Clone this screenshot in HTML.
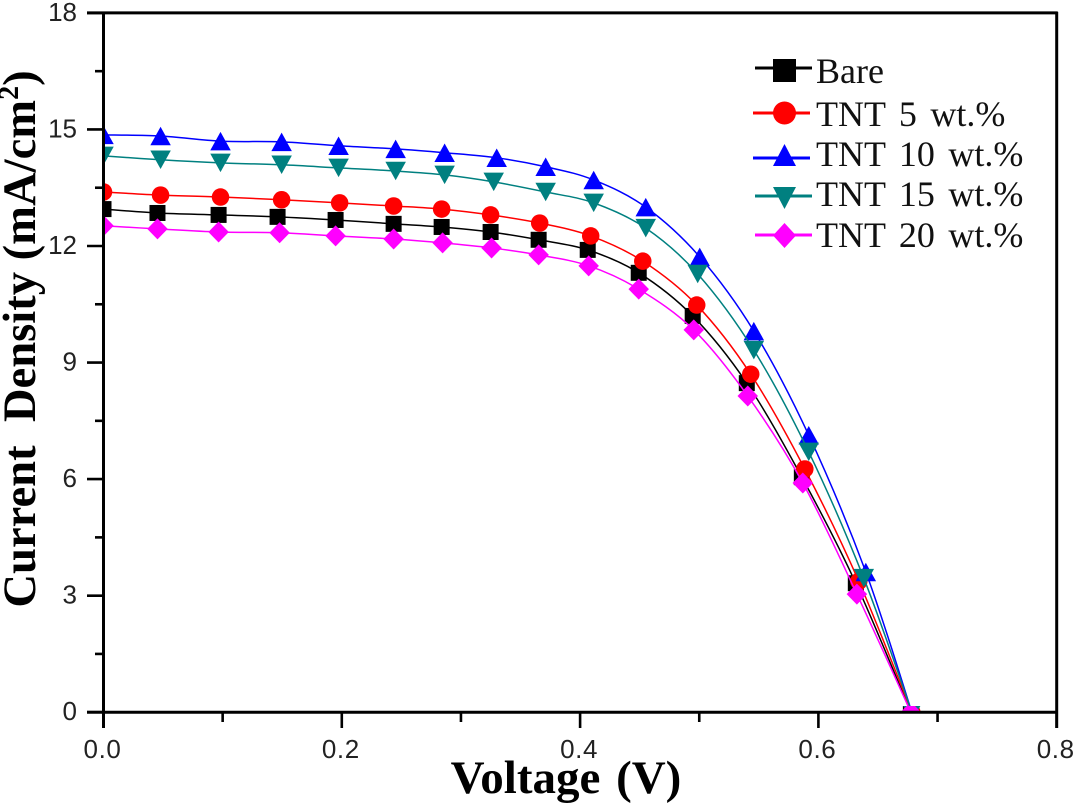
<!DOCTYPE html>
<html lang="en">
<head>
<meta charset="utf-8">
<title>Current density vs voltage</title>
<style>
html,body{margin:0;padding:0;background:#fff;}
body{width:1074px;height:806px;overflow:hidden;}
svg{display:block;}
.tick-text{font-family:"Liberation Sans",Arial,sans-serif;font-size:26px;fill:#222;}
.title-text{font-family:"Liberation Serif","Times New Roman",serif;font-weight:bold;fill:#000;}
.legend-text{font-family:"Liberation Serif","Times New Roman",serif;font-size:36px;word-spacing:4.5px;fill:#111;}
</style>
</head>
<body>
<svg id="chart" xmlns="http://www.w3.org/2000/svg" width="1074" height="806" viewBox="0 0 1074 806">
  <defs>
    <clipPath id="plot-clip"><rect x="103.5" y="12.7" width="953" height="700"></rect></clipPath>
    <clipPath id="end-clip"><rect x="103.5" y="706" width="953" height="7"></rect></clipPath>
  </defs>
  <g id="series-layer" clip-path="url(#plot-clip)"></g>
  <g id="axis-layer"></g>
  <text class="title-text" x="566" y="793" text-anchor="middle" font-size="47" word-spacing="4">Voltage (V)</text>
  <text class="title-text" transform="translate(35,339) rotate(-90)" text-anchor="middle" font-size="46.6" xml:space="preserve">Current  Density (mA/cm<tspan font-size="28" dy="-17">2</tspan><tspan dy="17">)</tspan></text>
  <g id="legend-layer"></g>
</svg>
<script>
const seriesNames = ['Bare', 'TNT 5 wt.%', 'TNT 10 wt.%', 'TNT 15 wt.%', 'TNT 20 wt.%'];

const voltageBare = [0, .0453, .0966, .1461, .1948, .2435, .2838, .3249, .3652, .4064, .4492, .4945, .5399, .5861, .6314, .6776];
const currentBare = [12.95, 12.85, 12.80, 12.75, 12.67, 12.57, 12.49, 12.36, 12.16, 11.90, 11.31, 10.20, 8.47, 6.05, 3.32, 0];

const voltage5 = [0, .0479, .0982, .1495, .1982, .2435, .2838, .3249, .3661, .4089, .4526, .4979, .5432, .5886, .6339, .6784];
const current5 = [13.39, 13.31, 13.26, 13.19, 13.11, 13.03, 12.95, 12.80, 12.59, 12.26, 11.61, 10.48, 8.70, 6.26, 3.37, 0];

const voltage10 = [0, .0479, .0982, .1495, .1973, .2452, .2863, .33, .3711, .4114, .4551, .5004, .5458, .5919, .6398, .6784];
const current10 = [14.86, 14.83, 14.70, 14.68, 14.58, 14.50, 14.40, 14.27, 14.04, 13.70, 13.00, 11.72, 9.81, 7.13, 3.61, 0];

const voltage15 = [0, .0479, .0982, .1495, .1973, .2452, .2863, .3275, .3711, .4114, .4551, .4987, .5458, .5919, .6381, .6784];
const current15 = [14.32, 14.22, 14.14, 14.09, 14.01, 13.93, 13.83, 13.65, 13.39, 13.11, 12.46, 11.28, 9.32, 6.70, 3.45, 0];

const voltage20 = [0, .0453, .0966, .1478, .1948, .2435, .2846, .3257, .3652, .4072, .4492, .4954, .5407, .5869, .6323, .6776];
const current20 = [12.52, 12.44, 12.36, 12.34, 12.26, 12.18, 12.08, 11.95, 11.77, 11.49, 10.89, 9.84, 8.14, 5.90, 3.04, 0];

const xMajorTicks = [0, 0.2, 0.4, 0.6, 0.8];
const xTickLabels = ['0.0', '0.2', '0.4', '0.6', '0.8'];
const xMinorTicks = [0.1, 0.3, 0.5, 0.7];
const yMajorTicks = [0, 3, 6, 9, 12, 15, 18];
const yTickLabels = ['0', '3', '6', '9', '12', '15', '18'];
const yMinorTicks = [1.5, 4.5, 7.5, 10.5, 13.5, 16.5];

const allVoltages = [voltageBare, voltage5, voltage10, voltage15, voltage20];
const allCurrents = [currentBare, current5, current10, current15, current20];
const colors = ['#000000', '#ff0000', '#0000ff', '#008080', '#ff00ff'];
const shapes = ['square', 'circle', 'up', 'down', 'diamond'];

const NS = 'http://www.w3.org/2000/svg';
const xScale = v => 103.5 + v * 1191.5;
const yScale = c => 712.2 - c * 38.85;

function make(tag, attrs, parent) {
  const el = document.createElementNS(NS, tag);
  for (const k in attrs) el.setAttribute(k, attrs[k]);
  parent.appendChild(el);
  return el;
}

function splinePath(pts) {
  let d = 'M' + pts[0][0] + ' ' + pts[0][1];
  for (let i = 0; i < pts.length - 1; i++) {
    const p0 = pts[Math.max(i - 1, 0)], p1 = pts[i], p2 = pts[i + 1], p3 = pts[Math.min(i + 2, pts.length - 1)];
    const c1x = p1[0] + (p2[0] - p0[0]) / 6, c1y = p1[1] + (p2[1] - p0[1]) / 6;
    const c2x = p2[0] - (p3[0] - p1[0]) / 6, c2y = p2[1] - (p3[1] - p1[1]) / 6;
    d += ' C' + c1x + ' ' + c1y + ' ' + c2x + ' ' + c2y + ' ' + p2[0] + ' ' + p2[1];
  }
  return d;
}

function drawMarker(shape, cx, cy, w, h, color, parent) {
  if (shape === 'square') {
    return make('rect', {x: cx - w / 2, y: cy - h / 2, width: w, height: h, fill: color}, parent);
  }
  if (shape === 'circle') {
    return make('circle', {cx: cx, cy: cy, r: w / 2, fill: color}, parent);
  }
  let pts;
  if (shape === 'up') pts = [[cx, cy - h / 2], [cx + w / 2, cy + h / 2], [cx - w / 2, cy + h / 2]];
  if (shape === 'down') pts = [[cx, cy + h / 2], [cx + w / 2, cy - h / 2], [cx - w / 2, cy - h / 2]];
  if (shape === 'diamond') pts = [[cx, cy - h / 2], [cx + w / 2, cy], [cx, cy + h / 2], [cx - w / 2, cy]];
  return make('polygon', {points: pts.map(p => p.join(',')).join(' '), fill: color}, parent);
}

const markerW = {square: 16, circle: 17.5, up: 20.5, down: 20.5, diamond: 20.5};
const markerH = {square: 16, circle: 17.5, up: 18.5, down: 18.5, diamond: 21};

const seriesLayer = document.getElementById('series-layer');
seriesNames.forEach((name, s) => {
  const group = make('g', {}, seriesLayer);
  
  
  const pts = allVoltages[s].map((v, i) => [xScale(v), yScale(allCurrents[s][i])]);
  const line = make('path', {d: splinePath(pts), fill: 'none', stroke: colors[s], 'stroke-width': 1.5}, group);
  
  
  pts.forEach((p, i) => {
    const m = drawMarker(shapes[s], p[0], p[1], markerW[shapes[s]], markerH[shapes[s]], colors[s], group);
    
    
    if (i === pts.length - 1) m.setAttribute('clip-path', 'url(#end-clip)');
  });
});

const axisLayer = document.getElementById('axis-layer');
const axisStyle = {stroke: '#000', 'stroke-width': 3, fill: 'none'};
const thinTick = {stroke: '#000', 'stroke-width': 2.6, fill: 'none'};

const leftSpine = make('line', Object.assign({x1: xScale(0), x2: xScale(0), y1: yScale(18) - 1, y2: 728}, axisStyle), axisLayer);


const rightSpine = make('line', Object.assign({x1: xScale(0.8), x2: xScale(0.8), y1: yScale(18) - 1, y2: 728}, axisStyle), axisLayer);


const topSpine = make('line', Object.assign({x1: 87, x2: xScale(0.8) + 1, y1: yScale(18), y2: yScale(18)}, axisStyle), axisLayer);


const bottomSpine = make('line', Object.assign({x1: 87, x2: xScale(0.8) + 1, y1: yScale(0), y2: yScale(0)}, axisStyle), axisLayer);



yMajorTicks.forEach((t, i) => {
  const y = yScale(t);
  const tick = make('line', Object.assign({x1: 87, x2: xScale(0), y1: y, y2: y}, thinTick), axisLayer);
  
  
  const label = make('text', {class: 'tick-text', x: 77, y: y + 8, 'text-anchor': 'end'}, axisLayer);
  
  
  label.textContent = yTickLabels[i];
});
yMinorTicks.forEach(t => {
  const y = yScale(t);
  const tick = make('line', Object.assign({x1: 95, x2: xScale(0), y1: y, y2: y}, thinTick), axisLayer);
  
  
});
xMajorTicks.forEach((t, i) => {
  const x = xScale(t);
  const tick = make('line', Object.assign({x1: x, x2: x, y1: yScale(0), y2: 728}, thinTick), axisLayer);
  
  
  const label = make('text', {class: 'tick-text', x: x - 1, y: 758, 'text-anchor': 'middle', 'letter-spacing': '0.6'}, axisLayer);
  
  
  label.textContent = xTickLabels[i];
});
xMinorTicks.forEach(t => {
  const x = xScale(t);
  const tick = make('line', Object.assign({x1: x, x2: x, y1: yScale(0), y2: 722}, thinTick), axisLayer);
  
  
});

const legendLayer = document.getElementById('legend-layer');
const legendLineY = [68, 113, 158, 196, 235];
const legendMarkerY = [70.5, 113, 155, 198, 235.5];
const legendTextY = [83, 126, 166, 206, 247];
const legendLineX1 = [755, 753, 753, 755, 755];
seriesNames.forEach((name, s) => {
  const entry = make('g', {}, legendLayer);
  
  
  const ln = make('line', {x1: legendLineX1[s], x2: legendLineX1[s] + 57, y1: legendLineY[s], y2: legendLineY[s], stroke: colors[s], 'stroke-width': 3}, entry);
  
  
  const mk = drawMarker(shapes[s], 784.5, legendMarkerY[s], 23, s === 2 || s === 3 ? 22 : (s === 4 ? 25 : 23), colors[s], entry);
  
  
  const tx = make('text', {class: 'legend-text', x: 816, y: legendTextY[s]}, entry);
  
  
  tx.textContent = name;
});
</script>
</body>
</html>
